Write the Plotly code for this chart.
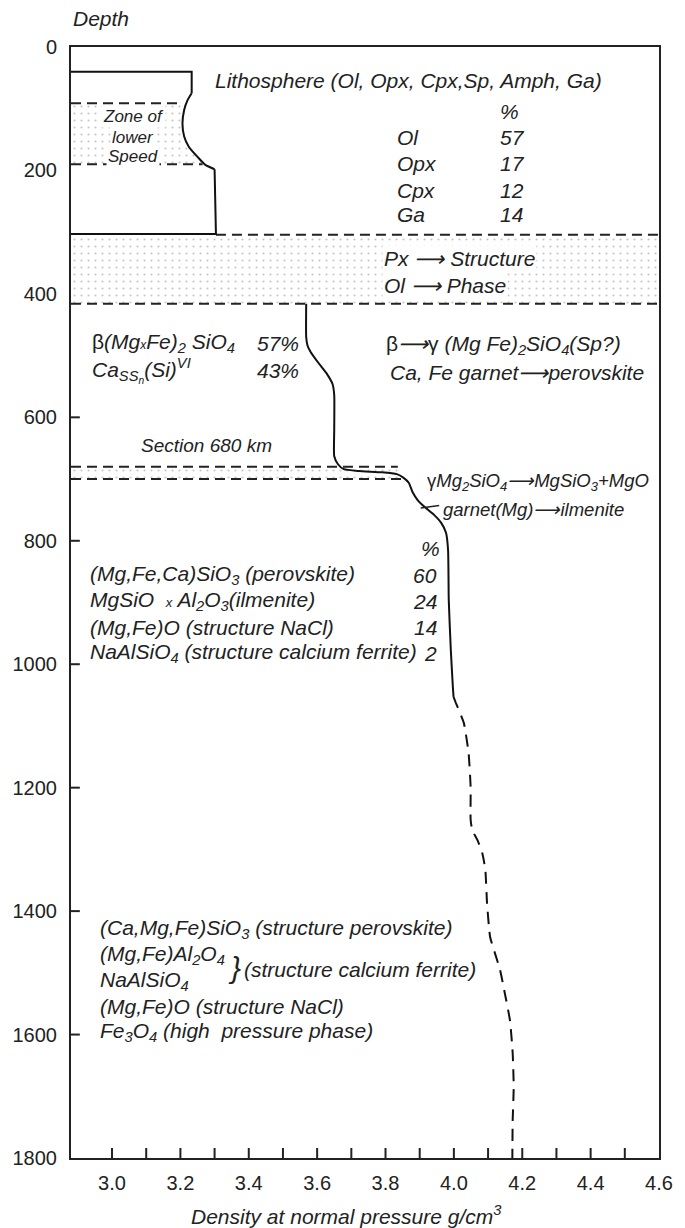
import plotly.graph_objects as go

FONT = "Liberation Sans, Arial, sans-serif"
INK = "#222222"

# ---------------- axes ----------------
density_tickvals = [3.0, 3.2, 3.4, 3.6, 3.8, 4.0, 4.2, 4.4, 4.6]
density_ticktext = ["3.0", "3.2", "3.4", "3.6", "3.8", "4.0", "4.2", "4.4", "4.6"]
density_marks = [3.0, 3.1, 3.2, 3.3, 3.4, 3.5, 3.6, 3.7, 3.8, 3.9, 4.0, 4.1, 4.2, 4.3, 4.4, 4.5]
depth_tickvals = [0, 200, 400, 600, 800, 1000, 1200, 1400, 1600, 1800]
depth_ticktext = ["0", "200", "400", "600", "800", "1000", "1200", "1400", "1600", "1800"]
depth_marks = [600, 800, 1000, 1200, 1400, 1600]
density_min, density_max = 2.88, 4.6
depth_min, depth_max = 0, 1800

# ---------------- lithosphere box with low-speed bulge ----------------
litho_density = [2.88, 3.233, 3.233, 3.221, 3.211, 3.206, 3.211, 3.225, 3.250, 3.273, 3.300, 3.304, 2.88]
litho_depth = [40, 40, 75, 86, 102, 124, 145, 162, 178, 191, 198, 303, 303]

# zone of lower speed (stippled, from the left edge to the bulge)
lvz_density = [2.88, 3.218, 3.211, 3.206, 3.211, 3.225, 3.250, 3.271, 2.88]
lvz_depth = [91, 91, 102, 124, 145, 162, 178, 190, 190]

# ---------------- mantle density curve ----------------
mantle_density = [3.568, 3.568, 3.572, 3.581, 3.604, 3.629, 3.645, 3.650, 3.650, 3.650,
                  3.661, 3.678, 3.721, 3.790, 3.833, 3.853, 3.868, 3.879, 3.894, 3.914,
                  3.942, 3.963, 3.977, 3.983, 3.985, 3.991, 3.997, 3.999]
mantle_depth = [416, 470, 484, 494, 512, 530, 546, 564, 620, 663,
                676, 684, 687, 689, 692, 698, 706, 721, 734, 745,
                758, 771, 787, 815, 896, 977, 1037, 1053]

# extrapolated (dashed) part
deep_density = [3.999, 4.006, 4.029, 4.043, 4.049, 4.049, 4.054, 4.069, 4.083, 4.092,
                4.097, 4.106, 4.120, 4.135, 4.149, 4.164, 4.172, 4.175, 4.172, 4.171]
deep_depth = [1053, 1063, 1095, 1144, 1199, 1252, 1269, 1285, 1306, 1333,
              1387, 1442, 1468, 1495, 1533, 1577, 1630, 1685, 1739, 1800]

# dashed boundaries: depth, start density, end density
boundary_depth = [91, 190, 304, 416, 680, 700]
boundary_from = [2.88, 2.88, 3.304, 2.88, 2.88, 2.88]
boundary_to = [3.20, 3.265, 4.6, 4.6, 3.836, 3.853]

# stippled bands: (top, bottom, right end)
band_top = [304, 680]
band_bottom = [416, 700]
band_right = [4.6, 3.84]

# composition tables
litho_minerals = ["Ol", "Opx", "Cpx", "Ga"]
litho_percent = [57, 17, 12, 14]
tz_phases = ["<span style='font-style:normal'>β</span>(Mg<span style='font-size:12px'>x</span>Fe)<sub>2</sub> SiO<sub>4</sub>",
             "Ca<sub>SS<sub>n</sub></sub>(Si)<sup>VI</sup>"]
tz_percent = [57, 43]
lm_phases = ["(Mg,Fe,Ca)SiO<sub>3</sub> (perovskite)",
             "MgSiO  <span style='font-size:13px'>x</span> Al<sub>2</sub>O<sub>3</sub>(ilmenite)",
             "(Mg,Fe)O (structure NaCl)",
             "NaAlSiO<sub>4</sub> (structure calcium ferrite)"]
lm_percent = [60, 24, 14, 2]
deep_phases = ["(Ca,Mg,Fe)SiO<sub>3</sub> (structure perovskite)",
               "(Mg,Fe)Al<sub>2</sub>O<sub>4</sub>",
               "NaAlSiO<sub>4</sub>",
               "(Mg,Fe)O (structure NaCl)",
               "Fe<sub>3</sub>O<sub>4</sub> (high  pressure phase)"]

PLOT_W, PLOT_H = 599, 1111  # plot area in px
px_per_density = PLOT_W / (density_max - density_min)
px_per_depth = PLOT_H / (depth_max - depth_min)

fig = go.Figure()

dots = dict(shape=".", size=7, solidity=0.07, fgcolor="#8a8a8a", bgcolor="rgba(255,255,255,0)")

# stippled areas
fig.add_trace(go.Scatter(x=lvz_density, y=lvz_depth, mode="lines", fill="toself",
                         fillcolor="rgba(255,255,255,0)", fillpattern=dots,
                         line=dict(width=0), hoverinfo="skip", showlegend=False))
for t, b, r in zip(band_top, band_bottom, band_right):
    fig.add_trace(go.Scatter(x=[density_min, r, r, density_min], y=[t, t, b, b], mode="lines",
                             fill="toself", fillcolor="rgba(255,255,255,0)", fillpattern=dots,
                             line=dict(width=0), hoverinfo="skip", showlegend=False))

# dashed boundaries
for d, a, b in zip(boundary_depth, boundary_from, boundary_to):
    fig.add_trace(go.Scatter(x=[a, b], y=[d, d], mode="lines",
                             line=dict(color=INK, width=2, dash="10px,6px"),
                             hoverinfo="skip", showlegend=False))

# lithosphere outline
solid = dict(color="#111111", width=2)
fig.add_trace(go.Scatter(x=litho_density[0:3], y=litho_depth[0:3], mode="lines",
                         line=solid, showlegend=False))
fig.add_trace(go.Scatter(x=litho_density[2:11], y=litho_depth[2:11], mode="lines",
                         line=dict(color="#111111", width=2, shape="spline", smoothing=0.6),
                         showlegend=False))
fig.add_trace(go.Scatter(x=litho_density[10:], y=litho_depth[10:], mode="lines",
                         line=solid, showlegend=False))

# mantle curve
fig.add_trace(go.Scatter(x=mantle_density, y=mantle_depth, mode="lines",
                         line=dict(color="#111111", width=2, shape="spline", smoothing=0.5),
                         showlegend=False))
fig.add_trace(go.Scatter(x=deep_density, y=deep_depth, mode="lines",
                         line=dict(color="#111111", width=2, shape="spline", smoothing=0.5,
                                   dash="12px,8px"),
                         showlegend=False))

# inward tick marks drawn as short line segments from the frame
tick_len_depth = 10 / px_per_depth
tx, ty = [], []
for v in density_marks:
    tx += [v, v, None]
    ty += [depth_max, depth_max - tick_len_depth, None]
fig.add_trace(go.Scatter(x=tx, y=ty, mode="lines", line=dict(color=INK, width=2),
                         hoverinfo="skip", showlegend=False))
tick_len_density = 9 / px_per_density
sx, sy = [], []
for d in depth_marks:
    sx += [density_min, density_min + tick_len_density, None]
    sy += [d, d, None]
fig.add_trace(go.Scatter(x=sx, y=sy, mode="lines", line=dict(color=INK, width=2),
                         hoverinfo="skip", showlegend=False))

ann = []


def note(text, x, y, size=21, anchor="left", bg=None, italic=True, xref="x", yref="y"):
    a = dict(text=text, x=x, y=y, xref=xref, yref=yref, xanchor=anchor, yanchor="middle",
             showarrow=False, borderpad=1,
             font=dict(family=FONT, size=size, color=INK, style="italic" if italic else "normal"))
    if bg:
        a["bgcolor"] = bg
    ann.append(a)


note("Lithosphere (Ol, Opx, Cpx,Sp, Amph, Ga)", 3.296, 54)
note("%", 4.129, 105)
for i, (m, p) in enumerate(zip(litho_minerals, litho_percent)):
    yy = [146, 188, 232, 272][i]
    note(m, 3.828, yy)
    note(str(p), 4.129, yy)

for i, w in enumerate(["Zone of", "lower", "Speed"]):
    note(w, 3.062, [112, 146, 177][i], size=17, anchor="center", bg="white")

note("Px ⟶ Structure", 3.790, 342, bg="white")
note("Ol ⟶ Phase", 3.790, 386, bg="white")

for i, (ph, p) in enumerate(zip(tz_phases, tz_percent)):
    yy = [480, 524][i]
    note(ph, 2.937, yy)
    note(f"{p}%", 3.417, yy)

note("<span style='font-style:normal'>β</span>⟶<span style='font-style:normal'>γ</span> (Mg Fe)<sub>2</sub>SiO<sub>4</sub>(Sp?)",
     3.796, 482)
note("Ca, Fe garnet⟶perovskite", 3.807, 528)
note("Section 680 km", 3.078, 645, size=19)

note("<span style='font-style:normal'>γ</span>Mg<sub>2</sub>SiO<sub>4</sub>⟶MgSiO<sub>3</sub>+MgO",
     3.916, 704, size=18.5)
note("garnet(Mg)⟶ilmenite", 3.962, 749, size=18.5)

note("%", 3.899, 812)
for i, (ph, p) in enumerate(zip(lm_phases, lm_percent)):
    yy = [856, 898, 940, 982][i]
    note(ph, 2.929, yy)
    note(str(p), 3.957, yy, anchor="right")

for i, ph in enumerate(deep_phases):
    yy = [1429, 1471, 1513, 1554, 1596][i]
    note(ph, 2.958, yy)
note("}", 3.334, 1492, size=30)
note("(structure calcium ferrite)", 3.380, 1495)

note("Depth", 0.0, 1.026, xref="paper", yref="paper")
note("Density at normal pressure g/cm<sup>3</sup>", 0.469, -0.051, anchor="center",
     xref="paper", yref="paper")

# leader line from the curve to "garnet(Mg)"
fig.add_shape(type="line", x0=3.903, y0=747, x1=3.957, y1=743, xref="x", yref="y",
              line=dict(color=INK, width=1.5))

fig.update_layout(
    width=685, height=1228,
    margin=dict(l=63, r=23, t=47, b=70),
    paper_bgcolor="white", plot_bgcolor="white",
    showlegend=False,
    annotations=ann,
    xaxis=dict(range=[density_min, density_max], tickvals=density_tickvals,
               ticktext=density_ticktext,
               ticks="", showline=True, linewidth=2, linecolor=INK, mirror=True,
               showgrid=False, zeroline=False, ticklabelstandoff=6,
               tickfont=dict(family=FONT, size=20, color=INK)),
    yaxis=dict(range=[depth_max, depth_min], tickvals=depth_tickvals, ticktext=depth_ticktext,
               ticks="", showline=True, linewidth=2, linecolor=INK, mirror=True,
               showgrid=False, zeroline=False, ticklabelstandoff=8,
               tickfont=dict(family=FONT, size=20, color=INK)),
)

fig.write_html("out.html")
